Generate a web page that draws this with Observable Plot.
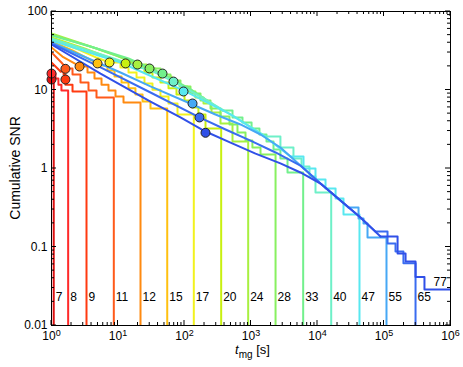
<!DOCTYPE html>
<html>
<head>
<meta charset="utf-8">
<script src="https://cdn.jsdelivr.net/npm/d3@7"></script>
<script src="https://cdn.jsdelivr.net/npm/@observablehq/plot@0.6"></script>
<style>
  body { margin: 0; background: #fff; }
  svg { display: block; }
</style>
</head>
<body>
<div id="chart"></div>
<script>
// ---- series identifiers and colours ----
const ids = ["7","8","9","11","12","15","17","20","24","28","33","40","47","55","65","77"];
const colors = ["#dd1111","#ff2a2a","#ff3a10","#ff5a1a","#ff8a10","#ffc010","#f2f21e","#c8f010",
                "#a8f040","#88f060","#72f08c","#6ef0c8","#58e8f0","#46a8f5","#3a6cf0","#3050e8"];

// ---- smooth (head) part of each curve: t_mg [s], cumulative SNR ----
const t07h = [1];                                  const s07h = [13.6];
const t08h = [1];                                  const s08h = [16.2];
const t09h = [1, 1.37];                            const s09h = [22.4, 17.2];
const t11h = [1, 1.41, 1.68];                      const s11h = [30.1, 22.4, 18.8];
const t12h = [1, 1.46, 2.22, 2.73];                const s12h = [34.8, 26.7, 21.8, 19.9];
const t15h = [1, 2.07, 4.28, 4.92];                const s15h = [41.5, 31.9, 23.1, 21.8];
const t17h = [1, 2.55, 4.75, 7.45];                const s17h = [44.0, 32.8, 25.9, 22.4];
const t20h = [1, 3.14, 9.49, 13.0];                const s20h = [46.6, 33.8, 23.8, 21.8];
const t24h = [1, 3.86, 9.49, 19.6];                const s24h = [52.5, 35.8, 27.5, 21.1];
const t28h = [1, 4.75, 12.5, 29.8];                const s28h = [50.9, 33.8, 25.2, 18.8];
const t33h = [1, 3.86, 14.4, 46.7, 132, 373];      const s33h = [49.4, 35.8, 25.2, 16.2, 9.86, 5.48];
const t40h = [1, 7.71, 36.6, 68.3, 207, 585, 1650];      const s40h = [45.3, 25.9, 16.7, 12.8, 7.57, 4.47, 2.56];
const t47h = [1, 10.9, 96.6, 492, 1390, 3920];           const s47h = [42.7, 22.4, 9.86, 4.88, 2.79, 1.42];
const t55h = [1, 10.9, 30.8, 132, 292, 695, 1390, 2770, 5540, 11100, 18700, 29200];
const s55h = [40.3, 16.7, 11.1, 6.54, 4.88, 3.64, 2.71, 1.85, 1.09, 0.644, 0.440, 0.318];
const t65h = [1, 5.46, 30.8, 168, 414, 982, 2340, 5540, 11100, 22200, 44300, 74500];
const s65h = [39.1, 19.4, 9.29, 4.47, 3.14, 2.27, 1.60, 1.09, 0.644, 0.39, 0.238, 0.157];
const t77h = [1, 5.46, 30.8, 87, 207, 492, 1170, 2770, 5540, 11100, 22200, 44300, 88500];
const s77h = [38.0, 16.2, 7.13, 4.47, 2.96, 2.14, 1.55, 1.16, 0.89, 0.644, 0.39, 0.238, 0.136];

// ---- staircase (tail) part of each curve ----
const t07s = [];                                   const s07s = [];
const t08s = [1.15, 1.27, 1.41];                   const s08s = [14.0, 11.7, 9.86];
const t09s = [1.52, 1.62, 2.07];                   const s09s = [15.8, 11.7, 9.57];
const t11s = [2.07, 2.73, 3.60, 4.75];             const s11s = [15.8, 12.5, 9.86, 8.0];
const t12s = [3.48, 4.43, 5.65, 7.20, 9.17, 12.1]; const s12s = [16.7, 14.0, 11.7, 9.86, 8.27, 6.94];
const t15s = [5.46, 6.95, 8.86, 11.3, 14.4, 18.3, 23.4, 30.8];
const s15s = [20.5, 17.7, 14.9, 12.5, 10.5, 8.77, 7.13, 5.81];
const t17s = [10.9, 14.4, 19.0, 25.0, 33.0, 43.5, 57.5, 78.5];
const s17s = [19.4, 16.7, 14.4, 12.1, 10.1, 8.27, 6.73, 4.88];
const t20s = [18.3, 25.0, 33.0, 43.5, 57.5, 75.8, 100, 132, 162, 207];
const s20s = [19.4, 16.7, 14.4, 12.5, 10.5, 8.77, 7.35, 5.98, 4.88, 3.24];
const t24s = [26.8, 36.6, 48.3, 63.8, 84.1, 111, 146, 193, 255, 348, 527];
const s24s = [18.8, 16.7, 14.9, 12.8, 11.1, 9.57, 8.0, 6.73, 5.17, 3.74, 2.21];
const t28s = [43.5, 61.5, 87, 123, 174, 246, 348, 475, 626, 827, 1050, 1390];
const s28s = [15.8, 13.2, 11.1, 9.02, 7.35, 5.81, 4.59, 3.64, 2.88, 2.27, 1.85, 1.51];
const t33s = [527, 745, 1020, 1340, 1710, 2180, 2770, 3540];
const s33s = [4.47, 3.85, 3.24, 2.71, 2.21, 1.75, 1.34, 0.89];
const t40s = [2770, 4350, 5750, 7580, 9330];       const s40s = [1.85, 1.34, 1.06, 0.791, 0.494];
const t47s = [6160, 9330, 13200, 18700, 24600];    const s47s = [1.00, 0.724, 0.556, 0.415, 0.260];
const t55s = [41400, 49200, 56500];                const s55s = [0.231, 0.199, 0.132];
const t65s = [113000, 149000, 196000];             const s65s = [0.111, 0.0877, 0.062];
const t77s = [160000, 211000, 298000, 406000];     const s77s = [0.0826, 0.0653, 0.0414, 0.0288];

// time at which each curve ends (SNR drops to zero); the last one runs to the axis end
const tEnd = [1.08, 1.78, 3.36, 8.65, 21.8, 55.0, 138, 356, 907, 2340, 6090, 16070, 42800, 109000, 298000, 1e6];

// ---- marker circles ----
const circT   = [1, 1, 1.62, 1.62, 2.64, 4.92, 7.45, 13.0, 19.6, 29.8, 46.7, 68.3, 96.6, 132, 168, 207];
const circSNR = [13.6, 16.2, 13.6, 18.6, 19.9, 21.8, 22.4, 21.8, 21.1, 18.8, 16.2, 12.8, 9.57, 6.73, 4.47, 2.85];

// ---- curve labels ----
const labelT   = [1.08, 1.78, 3.36, 8.65, 21.8, 55.0, 138, 356, 907, 2340, 6090, 16070, 42800, 109000, 298000, 520000];
const labelSNR = [0.023, 0.023, 0.023, 0.023, 0.023, 0.023, 0.023, 0.023, 0.023, 0.023, 0.023, 0.023, 0.023, 0.023, 0.023, 0.036];

// ---- axis ticks ----
const majorX = [1, 10, 100, 1e3, 1e4, 1e5, 1e6];
const majorY = [0.01, 0.1, 1, 10, 100];
const yTickLabels = ["0.01", "0.1", "1", "10", "100"];

const heads = [[t07h,s07h],[t08h,s08h],[t09h,s09h],[t11h,s11h],[t12h,s12h],[t15h,s15h],[t17h,s17h],[t20h,s20h],
               [t24h,s24h],[t28h,s28h],[t33h,s33h],[t40h,s40h],[t47h,s47h],[t55h,s55h],[t65h,s65h],[t77h,s77h]];
const stairs = [[t07s,s07s],[t08s,s08s],[t09s,s09s],[t11s,s11s],[t12s,s12s],[t15s,s15s],[t17s,s17s],[t20s,s20s],
               [t24s,s24s],[t28s,s28s],[t33s,s33s],[t40s,s40s],[t47s,s47s],[t55s,s55s],[t65s,s65s],[t77s,s77s]];

const FLOOR = 1e-3; // zero SNR, below the log axis (clipped)
const curveMarks = [];
ids.forEach((id, i) => {
  const [th, sh] = heads[i];
  const [ts, ss] = stairs[i];
  const head = th.map((t, j) => ({id, t, snr: sh[j]}));
  const tail = [head[head.length - 1], ...ts.map((t, j) => ({id, t, snr: ss[j]}))];
  const lastV = tail[tail.length - 1].snr;
  tail.push({id, t: tEnd[i], snr: tEnd[i] < 1e6 ? FLOOR : lastV});
  if (head.length > 1) curveMarks.push(Plot.line(head, {x: "t", y: "snr", stroke: "id", strokeWidth: 2, curve: "linear", clip: true}));
  curveMarks.push(Plot.line(tail, {x: "t", y: "snr", stroke: "id", strokeWidth: 2, curve: "step-after", clip: true}));
});

const circles = ids.map((id, i) => ({id, t: circT[i], snr: circSNR[i]}));
const labelRows = ids.map((id, i) => ({id, t: labelT[i], snr: labelSNR[i]}));

const chart = Plot.plot({
  width: 463, height: 367,
  marginLeft: 51, marginRight: 13, marginTop: 11, marginBottom: 42,
  style: {fontFamily: "'Liberation Sans', Arial, sans-serif", fontSize: "12px", color: "#000", background: "#fff"},
  x: {type: "log", domain: [1, 1e6]},
  y: {type: "log", domain: [0.01, 100]},
  color: {type: "ordinal", domain: ids, range: colors},
  marks: [
    ...curveMarks,
    Plot.dot(circles, {x: "t", y: "snr", fill: "id", stroke: "#222", strokeWidth: 1, r: 4.5}),
    Plot.text(labelRows, {x: "t", y: "snr", text: "id", textAnchor: "start", dx: 2, fontSize: 12, fill: "#000"}),
    Plot.frame({stroke: "#000"}),
    Plot.axisX({ticks: majorX, tickSize: 0, tickPadding: 6, label: null,
                tickFormat: d => "10^" + Math.round(Math.log10(d))}),
    Plot.axisY({ticks: majorY, tickSize: 0, tickPadding: 4, label: null,
                tickFormat: d => yTickLabels[majorY.indexOf(d)]})
  ]
});
document.getElementById("chart").appendChild(chart);

// ---- inward ticks on all four sides, using the plot's own scales ----
const sx = chart.scale("x"), sy = chart.scale("y");
const L = sx.apply(1), R = sx.apply(1e6), B = sy.apply(0.01), T = sy.apply(100);
const svg = d3.select(chart);
const tg = svg.append("g").attr("stroke", "#000").attr("stroke-width", 1);
function xt(v, len) {
  const x = sx.apply(v);
  tg.append("line").attr("x1", x).attr("x2", x).attr("y1", B).attr("y2", B - len);
  tg.append("line").attr("x1", x).attr("x2", x).attr("y1", T).attr("y2", T + len);
}
function yt(v, len) {
  const y = sy.apply(v);
  tg.append("line").attr("y1", y).attr("y2", y).attr("x1", L).attr("x2", L + len);
  tg.append("line").attr("y1", y).attr("y2", y).attr("x1", R).attr("x2", R - len);
}
majorX.forEach(v => xt(v, 5));
majorX.slice(0, -1).forEach(d => [2,3,4,5,6,7,8,9].forEach(k => xt(k * d, 3)));
majorY.forEach(v => yt(v, 5));
majorY.slice(0, -1).forEach(d => [2,3,4,5,6,7,8,9].forEach(k => yt(k * d, 3)));

// ---- superscript exponents on x tick labels ----
svg.selectAll('g[aria-label="x-axis tick label"] text').each(function() {
  const s = this.textContent;
  const k = s.split("^")[1];
  const el = d3.select(this);
  el.text("10");
  el.append("tspan").attr("dy", "-0.5em").attr("font-size", "9px").text(k);
});

// ---- axis titles ----
const xl = svg.append("text").attr("x", (L + R) / 2 + 2).attr("y", 354)
  .attr("text-anchor", "middle").attr("font-size", "13px").attr("fill", "#000");
xl.append("tspan").attr("font-style", "italic").text("t");
xl.append("tspan").attr("dy", "4").attr("font-size", "10px").text("mg");
xl.append("tspan").attr("dy", "-4").text(" [s]");

svg.append("text").attr("transform", `translate(20,${(T + B) / 2}) rotate(-90)`)
  .attr("text-anchor", "middle").attr("font-size", "14px").attr("fill", "#000").text("Cumulative SNR");
</script>
</body>
</html>
